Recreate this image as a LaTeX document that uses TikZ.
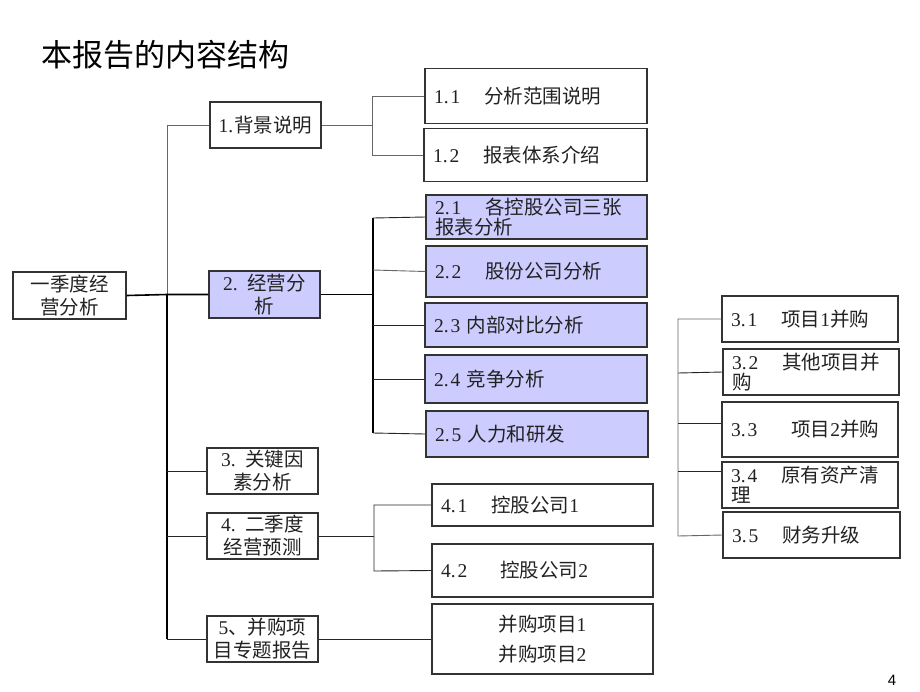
\documentclass[tikz,border=0pt]{standalone}
\usepackage{fontspec}
\setmainfont{Liberation Serif}
\newfontfamily\cjk{Noto Sans CJK SC}
\newfontfamily\pgnum{Liberation Sans}
\definecolor{boxc}{HTML}{333333}
\definecolor{lav}{HTML}{CCCCFF}
\definecolor{linegray}{HTML}{666666}
\definecolor{txt}{HTML}{222222}
\newcommand{\nm}[2]{#1.\kern2pt#2}
\begin{document}
\begin{tikzpicture}[x=1pt,y=-1pt,
  box/.style={draw=boxc, line width=1.2pt, inner sep=0pt, text=txt,
    font=\fontsize{19.5}{23}\selectfont},
  lvl/.style={box, align=center},
  sub/.style={box, align=left},
  hl/.style={fill=lav},
  thin/.style={draw=linegray, line width=0.9pt},
  thick/.style={draw=black, line width=1.6pt},
  blk/.style={draw=black!85, line width=0.9pt}]
\useasboundingbox (0,0) rectangle (920,691);
\fill[white] (0,0) rectangle (920,691);

% title
\node[font=\cjk\fontsize{31}{34}\selectfont, anchor=west] (title) at (38,55) {本报告的内容结构};
\node[font=\pgnum\fontsize{15}{16}\selectfont] (pg) at (892,680) {4};

% level 0 / 1
\node[lvl, minimum width=113pt, minimum height=47pt] (root) at (69.5,295.5) {{\cjk 一季度经}\\{\cjk 营分析}};
\node[lvl, minimum width=111pt, minimum height=46pt] (b1) at (265.5,125) {1.\kern1pt{\cjk 背景说明}};
\node[lvl, hl, minimum width=111pt, minimum height=47pt] (b2) at (264.5,294.5) {2.\ \ {\cjk 经营分}\\{\cjk 析}};
\node[lvl, minimum width=111pt, minimum height=46pt] (b3) at (262.5,471) {3.\ \ {\cjk 关键因}\\{\cjk 素分析}};
\node[lvl, minimum width=111pt, minimum height=46pt] (b4) at (262.5,536) {4.\ \ {\cjk 二季度}\\{\cjk 经营预测}};
\node[lvl, minimum width=111pt, minimum height=46pt] (b5) at (262.5,639) {5{\cjk 、并购项}\\{\cjk 目专题报告}};

% 1.x
\node[sub, minimum width=222pt, minimum height=55pt, text width=204pt] (s11) at (536,96) {\nm11\hspace{24pt}{\cjk 分析范围说明}};
\node[sub, minimum width=223pt, minimum height=53pt, text width=205pt] (s12) at (535.5,155) {\nm12\hspace{24pt}{\cjk 报表体系介绍}};

% 2.x
\node[sub, hl, minimum width=221pt, minimum height=44pt, text width=203pt] (s21) at (536.5,217) {\raisebox{2pt}{\nm21\hspace{24pt}{\cjk 各控股公司三张}}\\[-5pt]{\cjk 报表分析}};
\node[sub, hl, minimum width=221pt, minimum height=51pt, text width=203pt] (s22) at (536.5,271.5) {\nm22\hspace{24pt}{\cjk 股份公司分析}};
\node[sub, hl, minimum width=222pt, minimum height=44pt, text width=204pt] (s23) at (536,325) {\nm23\ {\cjk 内部对比分析}};
\node[sub, hl, minimum width=222pt, minimum height=48pt, text width=204pt] (s24) at (536,379) {\nm24\ {\cjk 竞争分析}};
\node[sub, hl, minimum width=222pt, minimum height=46pt, text width=204pt] (s25) at (537,434) {\nm25\ {\cjk 人力和研发}};

% 4.x
\node[sub, minimum width=221pt, minimum height=42pt, text width=203pt] (s41) at (542.5,505) {\nm41\hspace{24pt}{\cjk 控股公司}1};
\node[sub, minimum width=221pt, minimum height=53pt, text width=203pt] (s42) at (542.5,570.5) {\nm42\hspace{33pt}{\cjk 控股公司}2};
\node[box, minimum width=221pt, minimum height=70pt, align=center] (s5) at (542.5,639) {{\cjk 并购项目}1\\[7pt]{\cjk 并购项目}2};

% 3.x
\node[sub, minimum width=176pt, minimum height=46pt, text width=158pt] (s31) at (810,319) {\nm31\hspace{24pt}{\cjk 项目}1{\cjk 并购}};
\node[sub, minimum width=176pt, minimum height=46pt, text width=158pt] (s32) at (811,372) {\raisebox{2pt}{\nm32\hspace{24pt}{\cjk 其他项目并}}\\[-5pt]{\cjk 购}};
\node[sub, minimum width=176pt, minimum height=55pt, text width=158pt] (s33) at (810,429.5) {\nm33\hspace{34pt}{\cjk 项目}2{\cjk 并购}};
\node[sub, minimum width=176pt, minimum height=46pt, text width=158pt] (s34) at (810,485) {\raisebox{2pt}{\nm34\hspace{24pt}{\cjk 原有资产清}}\\[-5pt]{\cjk 理}};
\node[sub, minimum width=177pt, minimum height=46pt, text width=159pt] (s35) at (811.5,535) {\nm35\hspace{24pt}{\cjk 财务升级}};

% connectors: main trunk
\coordinate (t1) at (167,125);
\coordinate (t2) at (167,294.5);
\draw[thin] (b1.west) -- (t1) -- (t2);
\draw[thick] (root.east) -- (t2) -- (b2.west);
\draw[thick] (t2) -- (167,639);
\draw[blk] (167,471) -- (b3.west);
\draw[blk] (167,536) -- (b4.west);
\draw[blk] (167,639) -- (b5.west);

% 1 branch
\draw[thin] (b1.east) -- (372,125);
\draw[thin] (s11.west) -- (372,96) -- (372,155) -- (s12.west);

% 2 branch
\draw[thick] (b2.east) -- (373,294.5);
\draw[thick] (373,218) -- (373,433);
\draw[blk] (373,218) -- (s21.west);
\draw[thin] (373,270) -- (s22.west);
\draw[blk] (373,325) -- (s23.west);
\draw[blk] (373,379) -- (s24.west);
\draw[blk] (373,433) -- (s25.west);

% 4 branch
\draw[blk] (b4.east) -- (374,536);
\draw[blk] (s41.west) -- (374,505) -- (374,571) -- (s42.west);

% 5 branch
\draw[blk] (b5.east) -- (s5.west);

% 3.x cluster
\draw[thin] (s31.west) -- (678,319) -- (678,536) -- (s35.west);
\draw[blk] (678,373) -- (s32.west);
\draw[blk] (678,423) -- (s33.west |- 0,423);
\draw[blk] (678,471) -- (s34.west |- 0,471);
\end{tikzpicture}
\end{document}
